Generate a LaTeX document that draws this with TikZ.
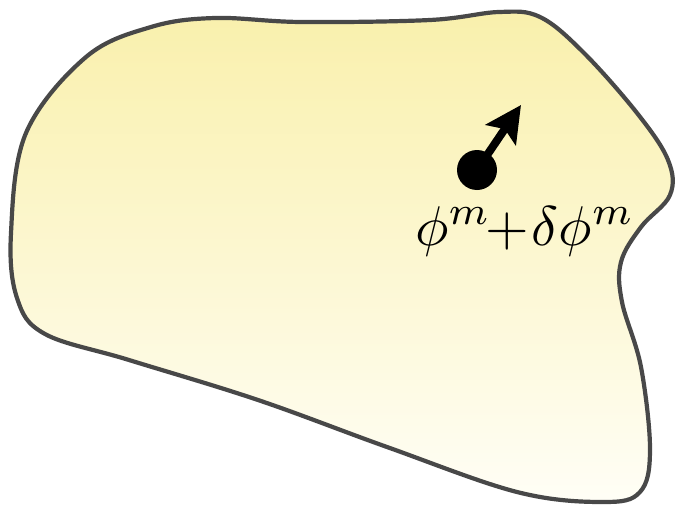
\documentclass[tikz,border=0pt]{standalone}
\usepackage{graphicx}
\usetikzlibrary{arrows.meta}
\definecolor{blobtop}{RGB}{249,240,172}
\definecolor{blobbot}{RGB}{255,254,246}
\definecolor{blobline}{RGB}{72,72,72}
\tikzset{
  blob/.style={draw=blobline, line width=4.2pt, top color=blobtop, bottom color=blobbot},
  pointdot/.style={circle, fill=black, inner sep=0pt, minimum size=40pt},
  vecarrow/.style={line width=8pt, -{Stealth[length=36pt,width=36pt,inset=7pt]}},
  lbl/.style={inner sep=0pt}
}
\begin{document}
\begin{tikzpicture}[x=1pt,y=-1pt]
\useasboundingbox (0,0) rectangle (675,506);
\draw[blob] plot[smooth cycle, tension=0.6] coordinates {
 (215,18) (301,22) (430,20) (499,12) (540,17) (583,52) (637,113)
 (668,160) (670,195) (641,227) (621,262) (622,302) (641,367) (650,450)
 (640,492) (603,502) (517,492) (387,447) (258,400) (129,360) (45,334)
 (17,298) (11,233) (26,133) (86,57) (151,27)};
\node[pointdot] (p) at (477,170) {};
\coordinate (tip) at (521,105);
\draw[vecarrow] (p.center) -- (tip);
\node[lbl] (l) at (525,231) {\scalebox{5.6}{$\phi^m\!\!+\!\delta\phi^m$}};
\end{tikzpicture}
\end{document}
